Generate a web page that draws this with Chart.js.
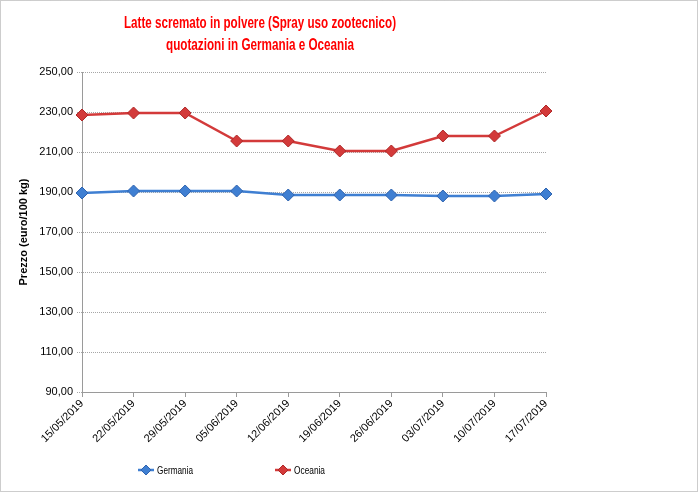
<!DOCTYPE html>
<html>
<head>
<meta charset="utf-8">
<script src="https://cdn.jsdelivr.net/npm/chart.js@4"></script>
<style>
  html, body { margin: 0; padding: 0; background: #fff; }
  #wrap { width: 698px; height: 492px; }
</style>
</head>
<body>
<div id="wrap"><canvas id="chart" width="698" height="492"></canvas></div>
<script>
// Dates (weekly quotations)
const dates = ['15/05/2019', '22/05/2019', '29/05/2019', '05/06/2019', '12/06/2019',
               '19/06/2019', '26/06/2019', '03/07/2019', '10/07/2019', '17/07/2019'];

// Prices in euro/100 kg
const germania = [189.5, 190.5, 190.5, 190.5, 188.5, 188.5, 188.5, 188.0, 188.0, 189.0];
const oceania  = [228.5, 229.5, 229.5, 215.5, 215.5, 210.5, 210.5, 218.0, 218.0, 230.5];

const titleLines = ['Latte scremato in polvere (Spray uso zootecnico)', 'quotazioni in Germania e Oceania'];
const yMin = 90, yMax = 250, yStep = 20;

const blue = '#3f7fd2', blueDark = '#2f64b0';
const red = '#d33a3a', redDark = '#b02828';
const baseFont = '"Liberation Sans", sans-serif';

// dotted frame, title and legend drawn by hand like in the Excel chart
const decor = {
    id: 'decor',
    beforeDraw(chart) {
        const c = chart.ctx;
        c.save();
        c.fillStyle = '#fff';
        c.fillRect(0, 0, chart.width, chart.height);
        c.strokeStyle = '#9a9a9a';
        c.setLineDash([1, 1]);
        c.lineWidth = 1;
        c.strokeRect(0.5, 0.5, chart.width - 1, chart.height - 1);
        c.restore();
    },
    afterDraw(chart) {
        const c = chart.ctx;
        c.save();
        // title (Calibri-like width, squeezed with maxWidth)
        c.fillStyle = '#ff0000';
        c.font = 'bold 16px ' + baseFont;
        c.textAlign = 'center';
        c.textBaseline = 'middle';
        c.fillText(titleLines[0], 260, 24, 272);
        c.fillText(titleLines[1], 260, 46, 188);

        // legend
        const items = [
            { label: 'Germania', color: blue, border: blueDark, x: 138, w: 36 },
            { label: 'Oceania', color: red, border: redDark, x: 275, w: 31 }
        ];
        const ly = 470;
        c.font = '11px ' + baseFont;
        c.textAlign = 'left';
        items.forEach(it => {
            c.strokeStyle = it.color;
            c.lineWidth = 2.5;
            c.beginPath();
            c.moveTo(it.x, ly);
            c.lineTo(it.x + 16, ly);
            c.stroke();
            c.fillStyle = it.color;
            c.strokeStyle = it.border;
            c.lineWidth = 1;
            c.beginPath();
            c.moveTo(it.x + 8, ly - 5);
            c.lineTo(it.x + 13, ly);
            c.lineTo(it.x + 8, ly + 5);
            c.lineTo(it.x + 3, ly);
            c.closePath();
            c.fill();
            c.stroke();
            c.fillStyle = '#000';
            c.fillText(it.label, it.x + 19, ly + 1, it.w);
        });
        c.restore();
    }
};

new Chart(document.getElementById('chart'), {
    type: 'line',
    data: {
        labels: dates,
        datasets: [
            {
                label: 'Germania',
                data: germania,
                borderColor: blue,
                backgroundColor: blue,
                pointBorderColor: blueDark,
                borderWidth: 2.5,
                pointStyle: 'rectRot',
                pointRadius: 6,
                pointBorderWidth: 1,
                tension: 0
            },
            {
                label: 'Oceania',
                data: oceania,
                borderColor: red,
                backgroundColor: red,
                pointBorderColor: redDark,
                borderWidth: 2.5,
                pointStyle: 'rectRot',
                pointRadius: 6,
                pointBorderWidth: 1,
                tension: 0
            }
        ]
    },
    options: {
        responsive: false,
        animation: false,
        layout: {
            padding: { top: 72, left: 0, right: 152, bottom: 0 }
        },
        scales: {
            x: {
                offset: false,
                grid: {
                    display: true,
                    drawOnChartArea: false,
                    drawTicks: true,
                    tickLength: 5,
                    color: '#9a9a9a'
                },
                border: { color: '#9a9a9a', dash: [1, 1] },
                ticks: {
                    minRotation: 45,
                    maxRotation: 45,
                    autoSkip: false,
                    color: '#000',
                    padding: 0,
                    font: { family: baseFont, size: 11 }
                },
                afterFit(scale) { scale.height = 100; }
            },
            y: {
                min: yMin,
                max: yMax,
                grid: {
                    color: '#a6a6a6',
                    tickLength: 5,
                    tickBorderDash: [1, 1]
                },
                border: { color: '#9a9a9a', dash: [1, 1] },
                ticks: {
                    stepSize: yStep,
                    color: '#000',
                    padding: 4,
                    font: { family: baseFont, size: 11 },
                    callback: v => v.toFixed(2).replace('.', ',')
                },
                title: {
                    display: true,
                    text: 'Prezzo (euro/100 kg)',
                    color: '#000',
                    padding: { top: 17, bottom: 4 },
                    font: { family: baseFont, size: 11, weight: 'bold' }
                },
                afterFit(scale) { scale.width = 82; }
            }
        },
        plugins: {
            legend: { display: false },
            title: { display: false },
            tooltip: { enabled: false }
        }
    },
    plugins: [decor]
});
</script>
</body>
</html>
